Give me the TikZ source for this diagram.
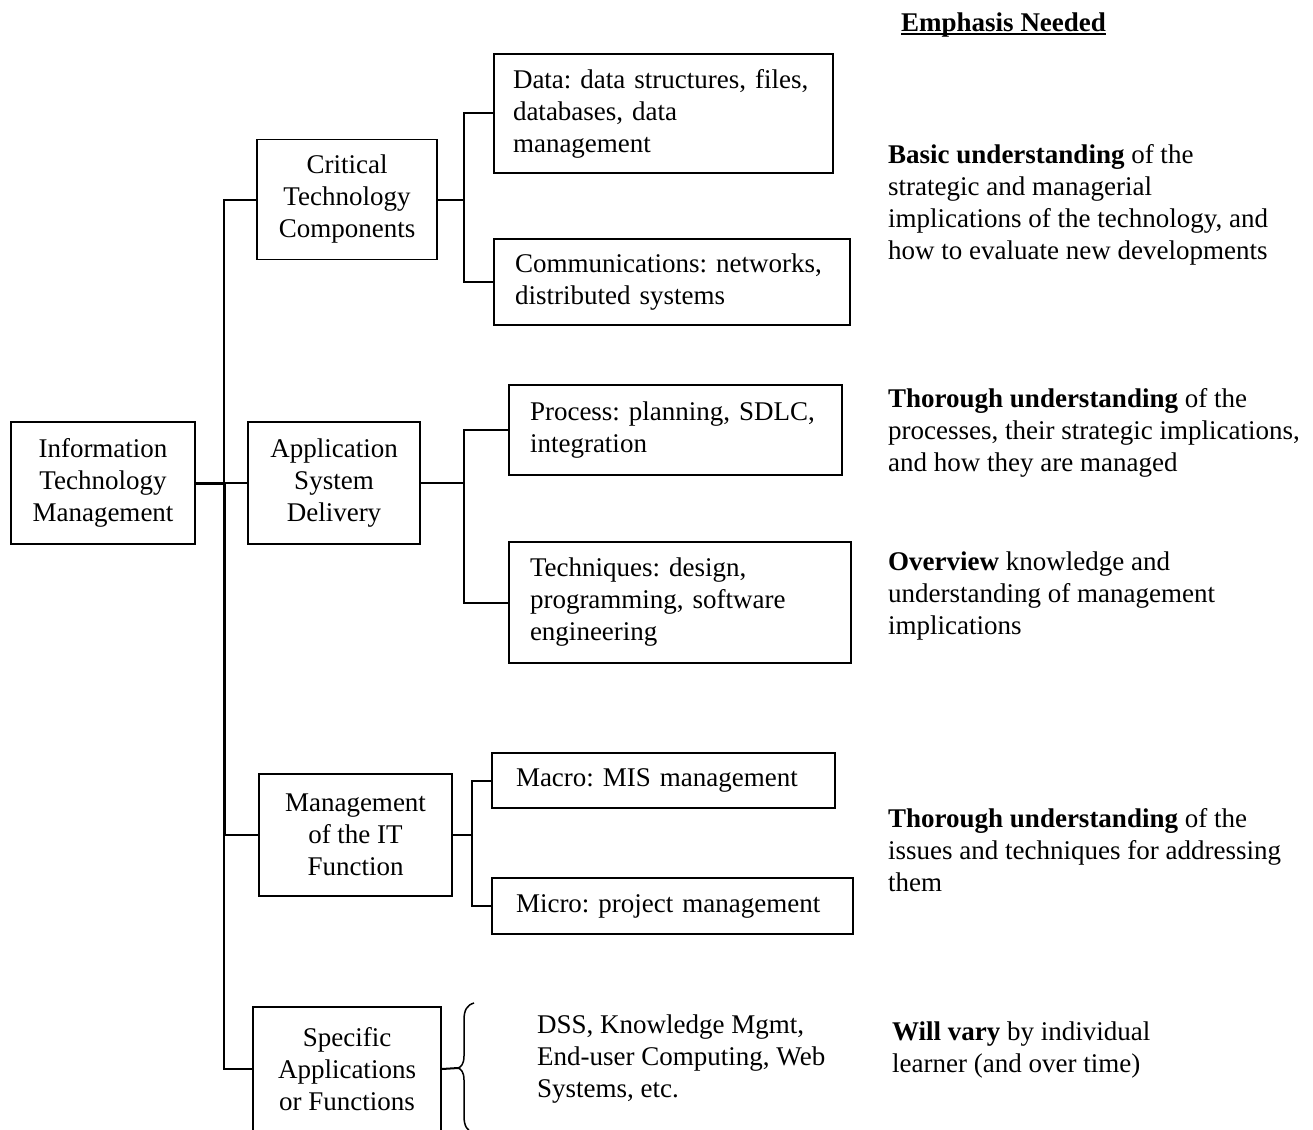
\documentclass[tikz,border=0pt]{standalone}
\usepackage{fontspec}
\setmainfont{Liberation Serif}
\begin{document}
\begin{tikzpicture}[x=1pt,y=-1pt,
  font=\fontsize{27pt}{32pt}\selectfont\frenchspacing,
  cbox/.style={draw, line width=1.9pt, align=center, inner sep=0pt},
  lbox/.style={draw, line width=1.9pt, align=left, inner xsep=21pt, inner ysep=0pt},
  txt/.style={anchor=north west, align=left, inner sep=0pt},
  conn/.style={line width=2pt},
  heavy/.style={line width=3pt},
  bracepath/.style={line width=1.5pt}]
\useasboundingbox (0,0) rectangle (1313,1129);

% left column boxes
\node[cbox, minimum width=184pt, minimum height=122pt] (itm) at (103,483) {Information\\Technology\\Management};
\node[cbox, minimum width=180pt, minimum height=120pt] (ctc) at (347,199.5) {Critical\\Technology\\Components};
\node[cbox, minimum width=172pt, minimum height=122pt] (asd) at (334,483) {Application\\System\\Delivery};
\node[cbox, minimum width=193pt, minimum height=122pt] (mit) at (355.5,835) {Management\\of the IT\\Function};
\node[cbox, minimum width=188pt, minimum height=124pt] (saf) at (347,1069) {Specific\\Applications\\or Functions};

% right boxes
\node[lbox, inner xsep=19pt, text width=301pt, minimum height=119pt] (data) at (663.5,113.5) {Data: data structures, files,\\databases, data\\management};
\node[lbox, text width=314pt, minimum height=86pt] (comm) at (672,282) {Communications: networks,\\distributed systems};
\node[lbox, text width=291pt, minimum height=90pt] (proc) at (675.5,430) {Process: planning, SDLC,\\integration};
\node[lbox, text width=300pt, minimum height=121pt] (tech) at (680,602.5) {Techniques: design,\\programming, software\\engineering};
\node[lbox, inner xsep=24pt, text width=295pt, minimum height=55pt] (macro) at (663.5,780.5) {Macro: MIS management};
\node[lbox, inner xsep=24pt, text width=313pt, minimum height=56pt] (micro) at (672.5,906) {Micro: project management};

% trunk
\coordinate (tr) at (224,0);
\draw[conn] (ctc.west) -| (tr |- saf.west) -- (saf.west);
\draw[heavy] (itm.east) -- (tr |- itm.east);
\draw[heavy] (tr |- itm.east) -- (tr |- mit.west);
\draw[conn] (tr |- asd.west) -- (asd.west);
\draw[conn] (tr |- mit.west) -- (mit.west);

% sub-branches
\coordinate (b1) at (464,0);
\coordinate (b3) at (472,0);
\draw[conn] (ctc.east) -- (b1 |- ctc.east);
\draw[conn] (data.west) -| (b1 |- comm.west) -- (comm.west);
\draw[conn] (asd.east) -- (b1 |- asd.east);
\draw[conn] (proc.west) -| (b1 |- tech.west) -- (tech.west);
\draw[conn] (mit.east) -- (b3 |- mit.east);
\draw[conn] (macro.west) -| (b3 |- micro.west) -- (micro.west);

% brace
\coordinate (brtip) at (458,1068);
\draw[conn] (saf.east) -- (brtip);
\draw[bracepath] (474,1003) .. controls (467,1005) and (464,1010) .. (464,1020) -- (464,1056)
  .. controls (464,1064) and (461,1067) .. (brtip)
  .. controls (461,1069) and (464,1072) .. (464,1080) -- (464,1116)
  .. controls (464,1126) and (467,1131) .. (474,1133);

% right column text
\node[anchor=base west, inner sep=0pt] (emph) at (901,32) {\textbf{Emphasis Needed}};
\draw[line width=1.4pt] ([yshift=-2pt]emph.base west) -- ([yshift=-2pt]emph.base east);
\node[txt] (basic) at (888,144.5) {\textbf{Basic understanding} of the\\strategic and managerial\\implications of the technology, and\\how to evaluate new developments};
\node[txt] (thor1) at (888,388.5) {\textbf{Thorough understanding} of the\\processes, their strategic implications,\\and how they are managed};
\node[txt] (over) at (888,551.5) {\textbf{Overview} knowledge and\\understanding of management\\implications};
\node[txt] (thor2) at (888,808.5) {\textbf{Thorough understanding} of the\\issues and techniques for addressing\\them};
\node[txt] (will) at (892,1021.5) {\textbf{Will vary} by individual\\learner (and over time)};
\node[txt] (dss) at (537,1014.5) {DSS, Knowledge Mgmt,\\End-user Computing, Web\\Systems, etc.};
\end{tikzpicture}
\end{document}
